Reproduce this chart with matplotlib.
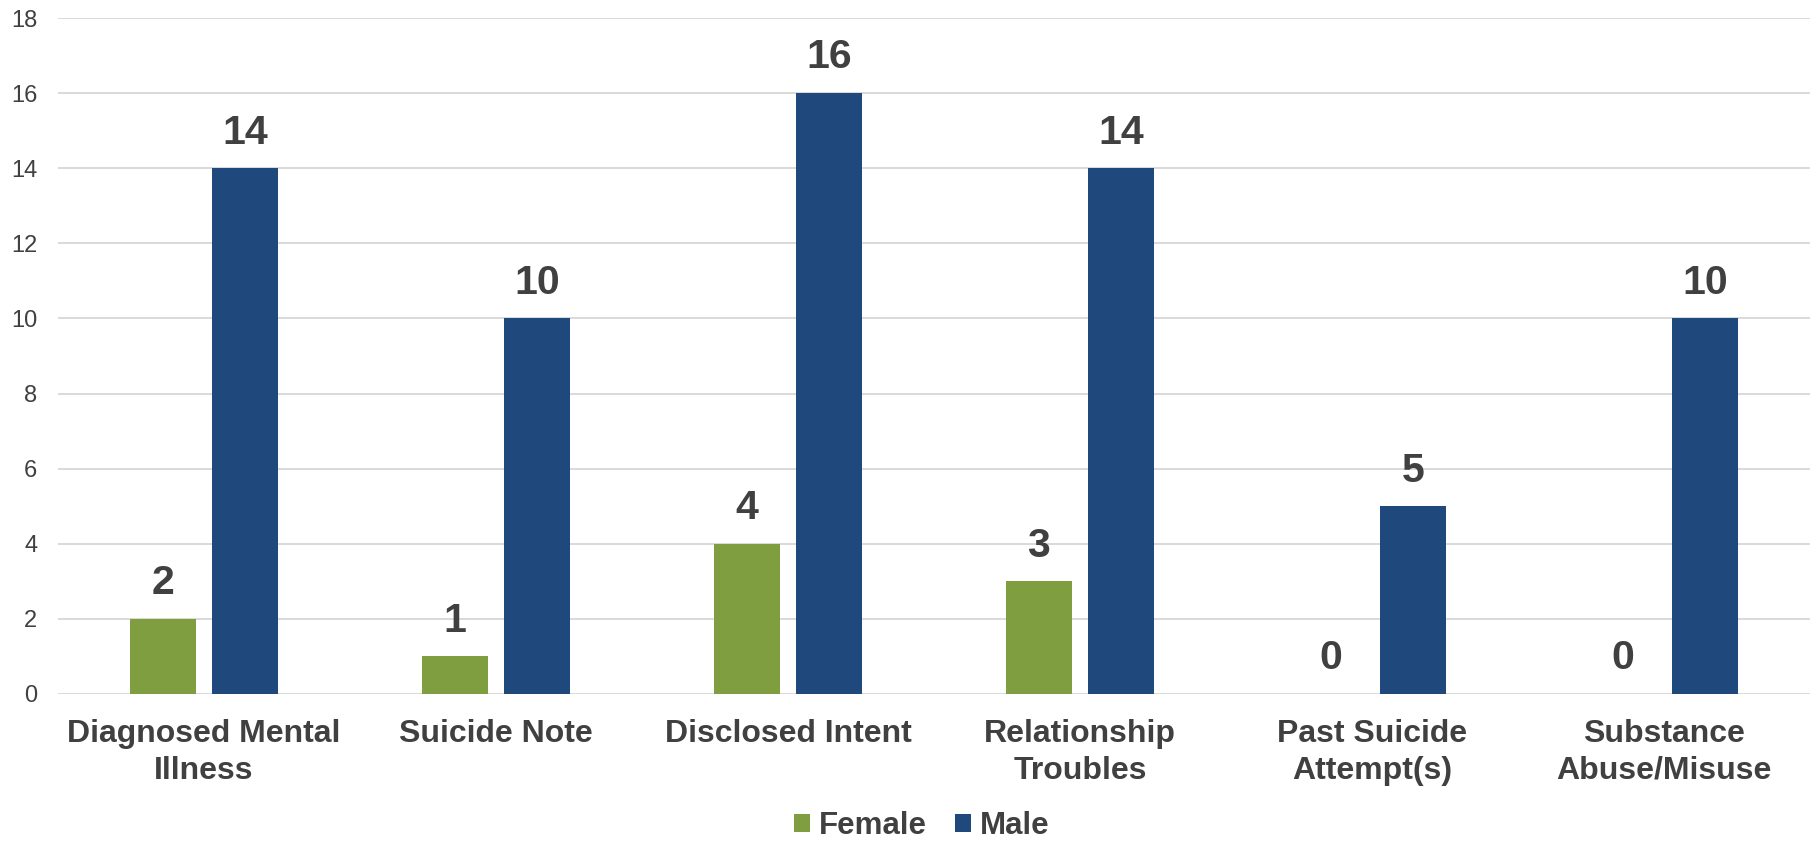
import matplotlib
matplotlib.use("Agg")
import matplotlib.pyplot as plt
import numpy as np

categories = ["Diagnosed Mental\nIllness", "Suicide Note", "Disclosed Intent",
              "Relationship\nTroubles", "Past Suicide\nAttempt(s)", "Substance\nAbuse/Misuse"]
female = [2, 1, 4, 3, 0, 0]
male = [14, 10, 16, 14, 5, 10]
yticks = [0, 2, 4, 6, 8, 10, 12, 14, 16, 18]

plt.rcParams['font.family'] = ['Liberation Sans', 'DejaVu Sans']
TXT = '#404040'
GREEN = '#7f9e3f'
BLUE = '#1f497d'

fig = plt.figure(figsize=(18.18, 8.44), dpi=100)
ax = fig.add_axes([58/1818, 150/844, 1752/1818, 676/844])

x = np.arange(len(categories))
w = 0.226
off = 0.142
b1 = ax.bar(x - off, female, w, color=GREEN, label='Female', zorder=3)
b2 = ax.bar(x + off, male, w, color=BLUE, label='Male', zorder=3)

for bars in (b1, b2):
    for r in bars:
        ax.annotate(f"{int(r.get_height())}", (r.get_x() + r.get_width()/2, r.get_height()),
                    xytext=(0, 12), textcoords='offset points', ha='center', va='bottom',
                    fontsize=29.5, fontweight='bold', color=TXT)

ax.set_xlim(-0.5, len(categories) - 0.5)
ax.set_ylim(0, 18)
ax.set_yticks(yticks)
ax.set_yticklabels([str(t) for t in yticks], fontsize=17, color=TXT)
ax.set_xticks(x)
ax.set_xticklabels(categories, fontsize=23, fontweight='bold', color=TXT, linespacing=1.3)
ax.tick_params(axis='both', length=0)
ax.tick_params(axis='y', pad=15)
ax.tick_params(axis='x', pad=18)
ax.grid(axis='y', color='#d9d9d9', linewidth=1.4, zorder=0)
for s in ax.spines.values():
    s.set_visible(False)

leg = fig.legend(handles=[b1, b2], labels=['Female', 'Male'], loc='lower center',
                 bbox_to_anchor=(0.507, -0.03), ncol=2, frameon=False,
                 prop={'size': 22.5, 'weight': 'bold'}, handlelength=0.52, handleheight=0.52,
                 handletextpad=0.27, columnspacing=0.9)
for t in leg.get_texts():
    t.set_color(TXT)

fig.savefig("out.png", dpi=100)
